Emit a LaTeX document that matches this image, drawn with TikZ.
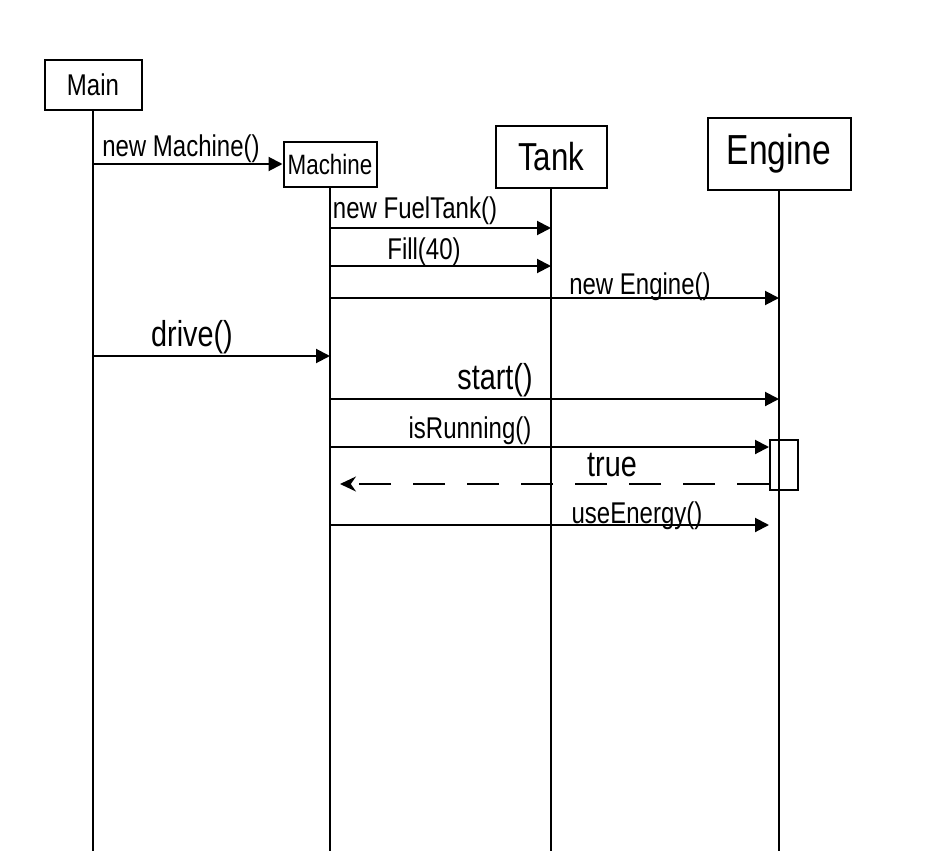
\documentclass[tikz,border=0pt]{standalone}
\usepackage{fontspec}
\setmainfont{Liberation Sans}
\usetikzlibrary{arrows.meta,positioning,calc}
\newcommand{\narrow}[1]{\scalebox{0.8}[1]{#1}}

\begin{document}
\begin{tikzpicture}[x=1pt, y=-1pt, line width=2pt,
                    every node/.style={font=\fontsize{30}{34}\selectfont},
                    big/.style={font=\fontsize{36}{40}\selectfont},
                    obj/.style={draw, inner sep=0pt},
                    msg/.style={-{Triangle[length=14pt,width=14pt]}},
                    ret/.style={dash pattern=on 32pt off 22pt, -{Stealth[length=16pt,width=15pt]}}]
                                \useasboundingbox (0,0) rectangle (950,851);

                                % objects
                                \node[obj, minimum width=97, minimum height=50] (main) at (93,85) {\narrow{Main}};
                                \node[obj, minimum width=93, minimum height=45, font=\fontsize{28}{30}\selectfont] (machine) at (330,164) {\narrow{Machine}};
                                \node[obj, minimum width=111, minimum height=62, font=\fontsize{39}{42}\selectfont] (tank) at (551,157) {\narrow{Tank}};
                                \node[obj, minimum width=143, minimum height=72, font=\fontsize{42}{46}\selectfont] (engine) at (779,154) {\narrow{Engine}};

                                % lifelines
                                \foreach \o in {main,machine,tank,engine}
                                    \draw (\o) -- (\o |- 0,851);

                                \node[draw, minimum width=28, minimum height=50, inner sep=0pt] (act) at (784,465) {};

                                % messages
                                \draw[msg] (main |- machine) -- (machine);
                                \draw[msg] (machine |- 0,228) -- (tank |- 0,228);
                                \draw[msg] (machine |- 0,266) -- (tank |- 0,266);
                                \draw[msg] (machine |- 0,298) -- (engine |- 0,298);
                                \draw[msg] (main |- 0,356) -- (machine |- 0,356);
                                \draw[msg] (machine |- 0,399) -- (engine |- 0,399);
                                \draw[msg] (machine |- 0,447) -- (act.west |- 0,447);
                                \draw[ret] (act.west |- 0,484) -- ($(machine |- 0,484)+(10,0)$);
                                \draw[msg] (machine |- 0,525) -- (act.west |- 0,525);

                                % labels
                                \node (lNewMachine) at (181,149) {\narrow{new Machine()}};
                                \node (lNewTank) at (415,211) {\narrow{new FuelTank()}};
                                \node (lFill) at (424,252) {\narrow{Fill(40)}};
                                \node (lNewEngine) at (640,287) {\narrow{new Engine()}};
                                \node[big] (lDrive) at (192,337) {\narrow{drive()}};
                                \node[big] (lStart) at (495,380) {\narrow{start()}};
                                \node (lRunning) at (470,431) {\narrow{isRunning()}};
                                \node[big] (lTrue) at (612,465) {\narrow{true}};
                                \node (lEnergy) at (637,516) {\narrow{useEnergy()}};
                            \end{tikzpicture}
\end{document}
